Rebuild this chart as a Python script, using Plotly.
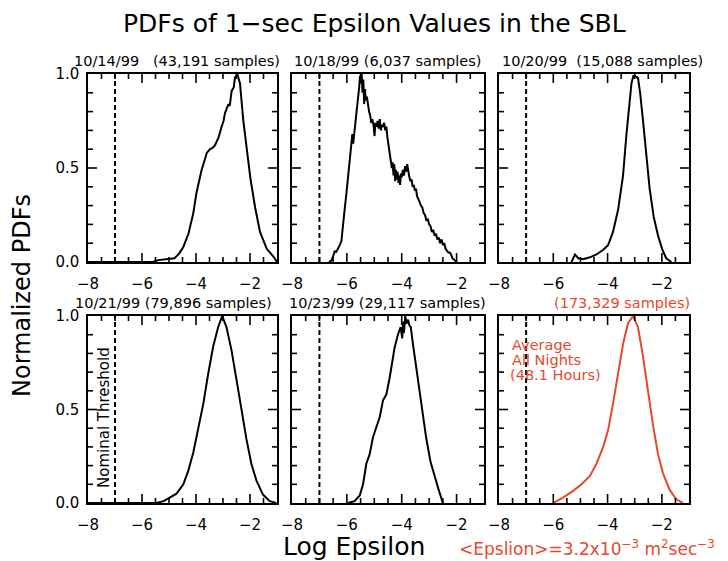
import plotly.graph_objects as go

# ---------------- data ----------------
panel_titles = ["10/14/99\u00a0\u00a0\u00a0(43,191 samples)", "10/18/99 (6,037 samples)",
                "10/20/99\u00a0\u00a0(15,088 samples)", "10/21/99 (79,896 samples)",
                "10/23/99 (29,117 samples)", "(173,329 samples)"]

x1 = [-8, -5.6, -5.4, -5.0, -4.8, -4.72, -4.6, -4.47, -4.28, -4.1, -3.98, -3.79, -3.6, -3.48, -3.4,
      -3.3, -3.22, -3.17, -3.05, -2.98, -2.93, -2.8, -2.75, -2.68, -2.6, -2.56, -2.47, -2.37, -2.25,
      -2.12, -1.98, -1.81, -1.63, -1.38, -1.14, -1.0]
y1 = [0, 0, 0.01, 0.015, 0.02, 0.03, 0.05, 0.08, 0.15, 0.26, 0.37, 0.49, 0.58, 0.60, 0.605,
      0.62, 0.64, 0.66, 0.72, 0.75, 0.79, 0.84, 0.83, 0.91, 0.93, 0.98, 1.0, 0.95, 0.755,
      0.6, 0.44, 0.29, 0.16, 0.07, 0.03, 0.0]

x2 = [-6.65, -6.55, -6.48, -6.44, -6.4, -6.32, -6.26, -6.2, -6.14, -6.08, -6.02, -5.96, -5.9, -5.84,
      -5.8, -5.77, -5.72, -5.68, -5.65, -5.62, -5.58, -5.55, -5.52, -5.49, -5.46, -5.43, -5.40, -5.37,
      -5.34, -5.31, -5.27, -5.23, -5.19, -5.15, -5.11, -5.07, -5.03, -4.99, -4.96, -4.92, -4.88, -4.84,
      -4.8, -4.76, -4.72, -4.68, -4.64, -4.6, -4.56, -4.52, -4.48, -4.44, -4.40, -4.36, -4.33, -4.30,
      -4.27, -4.24, -4.21, -4.18, -4.15, -4.12, -4.09, -4.06, -4.03, -4.0, -3.96, -3.92, -3.88, -3.84,
      -3.8, -3.76, -3.72, -3.68, -3.64, -3.6, -3.56, -3.52, -3.48, -3.44, -3.4, -3.35, -3.3, -3.25,
      -3.2, -3.15, -3.1, -3.05, -3.0, -2.95, -2.9, -2.85, -2.8, -2.75, -2.7, -2.65, -2.6, -2.55, -2.5,
      -2.45, -2.4, -2.35, -2.3, -2.25, -2.2, -2.15, -2.08, -2.0]
y2 = [0.0, 0.01, 0.04, 0.06, 0.05, 0.07, 0.09, 0.11, 0.18, 0.28, 0.36, 0.44, 0.52, 0.60,
      0.68, 0.63, 0.70, 0.74, 0.77, 0.82, 0.86, 0.93, 0.99, 0.95, 1.0, 0.90, 0.97, 0.84,
      0.92, 0.86, 0.88, 0.82, 0.80, 0.78, 0.74, 0.76, 0.73, 0.67, 0.74, 0.72, 0.75, 0.71,
      0.76, 0.70, 0.73, 0.72, 0.74, 0.70, 0.72, 0.66, 0.62, 0.57, 0.53, 0.50, 0.53, 0.46,
      0.52, 0.43, 0.49, 0.44, 0.48, 0.42, 0.46, 0.41, 0.47, 0.45, 0.49, 0.46, 0.51, 0.48,
      0.52, 0.47, 0.45, 0.43, 0.44, 0.40, 0.41, 0.38, 0.39, 0.35, 0.34, 0.32, 0.30, 0.29,
      0.26, 0.25, 0.22, 0.23, 0.20, 0.19, 0.16, 0.17, 0.14, 0.15, 0.12, 0.13, 0.10, 0.12, 0.09,
      0.10, 0.07, 0.06, 0.05, 0.05, 0.04, 0.02, 0.01, 0.0]

x3 = [-5.33, -5.26, -5.2, -5.14, -5.08, -4.9, -4.65, -4.41, -4.3, -4.16, -3.98, -3.8, -3.61, -3.43,
      -3.31, -3.21, -3.12, -3.05, -3.0, -2.88, -2.8, -2.7, -2.58, -2.45, -2.3, -2.14, -1.98, -1.84, -1.65]
y3 = [0, 0.02, 0.04, 0.03, 0.02, 0.015, 0.025, 0.04, 0.05, 0.065, 0.09, 0.16, 0.28, 0.46,
      0.67, 0.83, 0.95, 0.99, 0.99, 0.98, 0.90, 0.76, 0.58, 0.39, 0.24, 0.14, 0.065, 0.02, 0]

x4 = [-8, -5.47, -5.2, -4.96, -4.72, -4.47, -4.29, -4.1, -3.92, -3.73, -3.55, -3.36, -3.18, -3.03,
      -2.87, -2.69, -2.5, -2.32, -2.13, -1.95, -1.76, -1.52, -1.27, -1.03]
y4 = [0, 0, 0.01, 0.03, 0.05, 0.1, 0.17, 0.27, 0.39, 0.53, 0.69, 0.84, 0.94, 1.0,
      0.94, 0.82, 0.66, 0.50, 0.34, 0.21, 0.12, 0.045, 0.01, 0]

x5 = [-5.96, -5.72, -5.53, -5.41, -5.29, -5.17, -5.05, -4.93, -4.8, -4.68, -4.56, -4.44, -4.35,
      -4.26, -4.14, -4.04, -3.98, -3.95, -3.92, -3.87, -3.83, -3.77, -3.72, -3.67, -3.59, -3.47,
      -3.35, -3.23, -3.11, -2.95, -2.8, -2.65, -2.5]
y5 = [0, 0.01, 0.04, 0.1, 0.21, 0.26, 0.35, 0.40, 0.46, 0.55, 0.58, 0.67, 0.76,
      0.83, 0.90, 0.94, 0.88, 0.97, 0.91, 1.0, 0.96, 0.98, 0.95, 0.94, 0.85, 0.72,
      0.60, 0.46, 0.35, 0.22, 0.14, 0.07, 0]

x6 = [-6.0, -5.63, -5.27, -4.96, -4.65, -4.41, -4.16, -3.98, -3.8, -3.61, -3.43, -3.25, -3.06,
      -2.88, -2.7, -2.51, -2.33, -2.14, -1.96, -1.71, -1.47, -1.22]
y6 = [0, 0.03, 0.065, 0.1, 0.145, 0.21, 0.30, 0.39, 0.53, 0.69, 0.85, 0.96, 1.0,
      0.94, 0.79, 0.60, 0.42, 0.26, 0.16, 0.07, 0.02, 0]

threshold = -7
x_range = [-8, -1]
y_range = [0, 1]
x_label_vals = [-8, -6, -4, -2]
y_label_vals = [0, 0.5, 1.0]
x_major = [-6, -4, -2]
x_minor = [-7.5, -7, -6.5, -5.5, -5, -4.5, -3.5, -3, -2.5, -1.5]
y_major = [0.5]
y_minor = [0.1, 0.2, 0.3, 0.4, 0.6, 0.7, 0.8, 0.9]

# ---------------- layout ----------------
W, H = 728, 561
RED = "#e8472c"
FONT = "DejaVu Sans"
xdom_px = [(88, 277), (292, 484), (499, 689)]
ydom_px = [(74, 262), (316, 503)]
MAJ, MIN = 9, 5  # tick lengths in px

xs = [x1, x2, x3, x4, x5, x6]
ys = [y1, y2, y3, y4, y5, y6]
colors = ["black"] * 5 + [RED]

fig = go.Figure()
layout = dict(width=W, height=H, margin=dict(l=0, r=0, t=0, b=0, pad=0),
              template="none",
              paper_bgcolor="white", plot_bgcolor="white", showlegend=False,
              font=dict(family=FONT, color="black", size=15))

common = dict(showline=True, linecolor="black", linewidth=1.5, mirror=True, ticks="",
              showgrid=False, zeroline=False, tickfont=dict(family=FONT, size=15))


def tick_path(pw, ph):
    """Inside tick segments on all four sides, in data units of the panel's axes."""
    xspan = x_range[1] - x_range[0]
    yspan = y_range[1] - y_range[0]
    tx, ty = [], []
    for vals, L in [(x_major, MAJ), (x_minor, MIN)]:
        dy = yspan * L / ph
        for v in vals:
            tx += [v, v, None, v, v, None]
            ty += [y_range[0], y_range[0] + dy, None, y_range[1], y_range[1] - dy, None]
    for vals, L in [(y_major, MAJ), (y_minor, MIN)]:
        dx = xspan * L / pw
        for v in vals:
            tx += [x_range[0], x_range[0] + dx, None, x_range[1], x_range[1] - dx, None]
            ty += [v, v, None, v, v, None]
    return tx, ty


annotations = []
for i in range(6):
    r, c = divmod(i, 3)
    ax = "" if i == 0 else str(i + 1)
    x0, x1p = xdom_px[c]
    yt, yb = ydom_px[r]
    pw, ph = x1p - x0, yb - yt
    fig.add_trace(go.Scatter(x=xs[i], y=ys[i], mode="lines", xaxis="x" + ax, yaxis="y" + ax,
                             line=dict(color=colors[i], width=2)))
    fig.add_trace(go.Scatter(x=[threshold, threshold], y=[0, 1], mode="lines",
                             xaxis="x" + ax, yaxis="y" + ax,
                             line=dict(color="black", width=2, dash="5px,3px")))
    tx, ty = tick_path(pw, ph)
    fig.add_trace(go.Scatter(x=tx, y=ty, mode="lines", xaxis="x" + ax, yaxis="y" + ax,
                             line=dict(color="black", width=1.6), hoverinfo="skip",
                             connectgaps=False))
    layout["xaxis" + ax] = dict(common, domain=[x0 / W, x1p / W], range=x_range, anchor="y" + ax,
                                tickmode="array", tickvals=x_label_vals, ticklabelstandoff=7)
    layout["yaxis" + ax] = dict(common, domain=[1 - yb / H, 1 - yt / H], range=y_range,
                                anchor="x" + ax, tickmode="array", tickvals=y_label_vals,
                                tickformat=".1f", showticklabels=(c == 0), ticklabelstandoff=4)

title_pos = [(177, 61), (387, 61), (602, 61), (173, 303), (387, 303), (622, 303)]
for i, (tx_, ty_) in enumerate(title_pos):
    annotations.append(dict(text=panel_titles[i], x=tx_ / W, y=1 - ty_ / H, xref="paper",
                            yref="paper", showarrow=False, xanchor="center", yanchor="middle",
                            font=dict(family=FONT, size=14.5, color=colors[i])))

annotations += [
    dict(text="PDFs of 1\u2212sec Epsilon Values in the SBL", x=375 / W, y=1 - 24 / H,
         xref="paper", yref="paper", showarrow=False, xanchor="center", yanchor="middle",
         font=dict(family=FONT, size=25, color="black")),
    dict(text="Normalized PDFs", x=22 / W, y=1 - 296 / H, xref="paper", yref="paper",
         showarrow=False, textangle=-90, xanchor="center", yanchor="middle",
         font=dict(family=FONT, size=24, color="black")),
    dict(text="Log Epsilon", x=354 / W, y=1 - 546 / H, xref="paper", yref="paper",
         showarrow=False, xanchor="center", yanchor="middle",
         font=dict(family=FONT, size=25, color="black")),
    dict(text="<Epslion>=3.2x10<sup>\u22123</sup> m<sup>2</sup>sec<sup>\u22123</sup>",
         x=587 / W, y=1 - 548 / H, xref="paper", yref="paper",
         showarrow=False, xanchor="center", yanchor="middle",
         font=dict(family=FONT, size=17, color=RED)),
    dict(text="Nominal Threshold", x=104 / W, y=1 - 418 / H, xref="paper", yref="paper",
         showarrow=False, textangle=-90, xanchor="center", yanchor="middle",
         font=dict(family=FONT, size=15, color="black")),
]
for txt, tx_, ty_ in [("Average", 542, 345), ("All Nights", 546, 360), ("(48.1 Hours)", 555, 375)]:
    annotations.append(dict(text=txt, x=tx_ / W, y=1 - ty_ / H, xref="paper", yref="paper",
                            showarrow=False, xanchor="center", yanchor="middle",
                            font=dict(family=FONT, size=14.5, color=RED)))

layout["annotations"] = annotations
fig.update_layout(**layout)
fig.write_html("out.html", config={"displayModeBar": False},
               post_script="document.body.style.margin='0';")
